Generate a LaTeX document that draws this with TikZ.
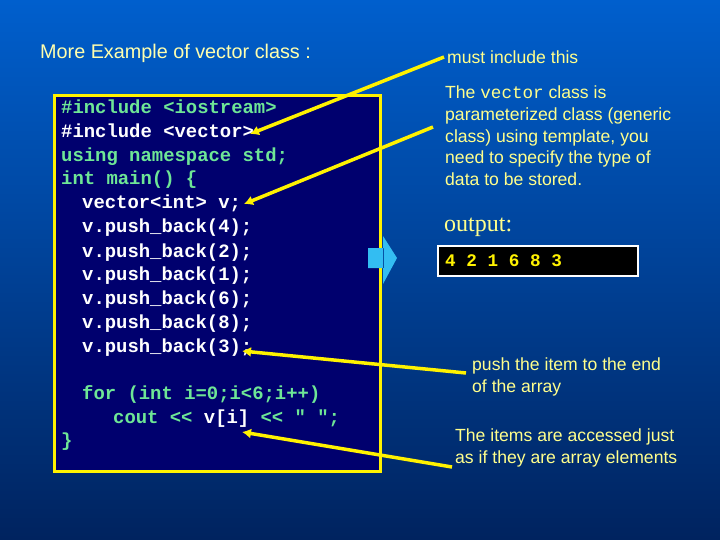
\documentclass[tikz,border=0pt]{standalone}
\usepackage{fontspec}
\setmainfont{Liberation Sans}
\setmonofont{Liberation Mono}
\newfontfamily\serifx{Liberation Serif}
\usetikzlibrary{arrows.meta}
\begin{document}
\begin{tikzpicture}[x=1pt,y=-1pt,
  code/.style={anchor=base west,inner sep=0,font=\ttfamily\bfseries\fontsize{18.9}{20}\selectfont},
  txt/.style={anchor=base west,inner sep=0,text=lyel,font=\fontsize{17.6}{21.6}\selectfont,align=left},
  mtxt/.style={txt,anchor=north west},
  pointer/.style={draw=yellow,line width=3.5pt,-{Latex[length=9pt,width=10pt]}},
  ]
\definecolor{topb}{RGB}{0,95,205}
\definecolor{botb}{RGB}{0,35,95}
\definecolor{navy}{RGB}{0,0,110}
\definecolor{cg}{RGB}{110,230,150}
\definecolor{lyel}{RGB}{255,255,140}
\useasboundingbox (0,0) rectangle (720,540);
\shade[top color=topb,bottom color=botb] (0,0) rectangle (720,540);
\node[txt,text=lyel!70!white,font=\fontsize{19.8}{22}\selectfont] (title) at (40,59) {More Example of vector class :};
\draw[fill=navy,draw=yellow,line width=3pt] (54,96) rectangle (380,471);
\node[code,text=cg] (l1) at (61,114) {\#include <iostream>};
\node[code,text=white] (l2) at (61,138) {\#include <vector>};
\node[code,text=cg] (l3) at (61,162) {using namespace std;};
\node[code,text=cg] (l4) at (61,185) {int main() \{};
\node[code,text=white] (l5) at (82,209) {vector<int> v;};
\node[code,text=white] (l6) at (82,233) {v.push\_back(4);};
\node[code,text=white] (l7) at (82,257) {v.push\_back(2);};
\node[code,text=white] (l8) at (82,280) {v.push\_back(1);};
\node[code,text=white] (l9) at (82,304) {v.push\_back(6);};
\node[code,text=white] (l10) at (82,328) {v.push\_back(8);};
\node[code,text=white] (l11) at (82,352) {v.push\_back(3);};
\node[code,text=cg] (l12) at (82,399) {for (int i=0;i<6;i++)};
\node[code,text=cg] (l13) at (113,423) {cout << \textcolor{white}{v[i]} << " ";};
\node[code,text=cg] (l14) at (61,446) {\}};
\node[txt] (t1) at (447,64) {must include this};
\node[mtxt] (t2) at (445,86) {The {\ttfamily vector} class is\\parameterized class (generic\\class) using template, you\\need to specify the type of\\data to be stored.};
\node[anchor=base west,inner sep=0,text=lyel,font=\serifx\fontsize{24}{26}\selectfont] (out) at (444,231) {output:};
\node[draw=white,line width=1.5pt,fill=black,minimum width=200pt,minimum height=30pt,anchor=north west,inner sep=0] (box) at (437,245) {};
\node[code,text=yellow,font=\ttfamily\bfseries\fontsize{17.7}{18}\selectfont] (o) at (445,266) {4 2 1 6 8 3};
\node[mtxt] (t3) at (472,358) {push the item to the end\\of the array};
\node[mtxt] (t4) at (455,429) {The items are accessed just\\as if they are array elements};
\fill[cyan!80!white] (368,248) rectangle (384,268) (383,236) -- (397,258) -- (383,284) -- cycle;
\coordinate (a1s) at (444,57); \coordinate (a1e) at (250,134);
\coordinate (a2s) at (433,127); \coordinate (a2e) at (244,204);
\coordinate (a3s) at (466,373); \coordinate (a3e) at (242,351);
\coordinate (a4s) at (452,467); \coordinate (a4e) at (242,432);
\draw[pointer] (a1s) -- (a1e);
\draw[pointer] (a2s) -- (a2e);
\draw[pointer] (a3s) -- (a3e);
\draw[pointer] (a4s) -- (a4e);
\end{tikzpicture}
\end{document}
